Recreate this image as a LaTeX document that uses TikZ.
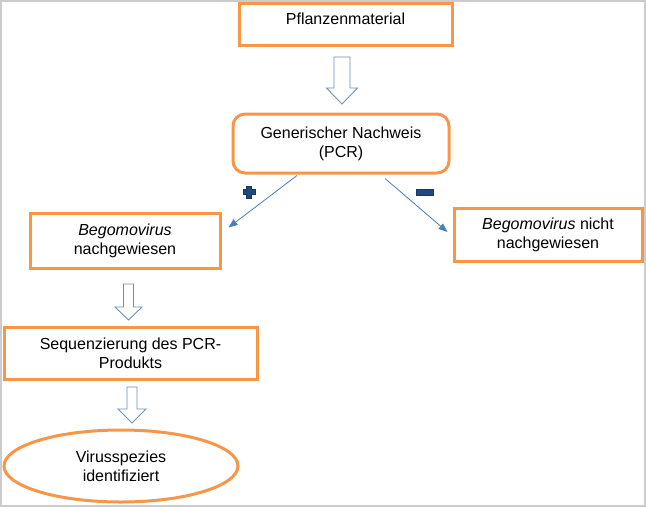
\documentclass[tikz,border=0pt]{standalone}
\usepackage{fontspec}
\setmainfont{Liberation Sans}
\usetikzlibrary{arrows.meta,shapes.geometric}
\definecolor{orbox}{HTML}{F79646}
\definecolor{arrblue}{HTML}{4A7EBB}
\definecolor{hollowblue}{HTML}{6F8FB8}
\definecolor{navy}{HTML}{1F497D}
\definecolor{navydark}{HTML}{17375E}
\definecolor{framegray}{HTML}{CCCCCC}
\tikzset{
  obox/.style={draw=orbox, line width=3pt, fill=white, align=center, inner sep=2pt,
    font=\fontsize{16}{19}\selectfont},
  rbox/.style={obox, rounded corners=12pt},
  ebox/.style={obox, ellipse},
  conn/.style={draw=arrblue, line width=0.8pt, -{Triangle[length=9pt,width=7pt]}},
  hollow/.style={draw=hollowblue, line width=0.9pt, fill=white, line join=miter},
  sign/.style={fill=navy, draw=navydark, line width=0.6pt}
}
\newcommand{\blockarrow}[6]{% x, ytop, yhead, ytip, half shaft, half head
  \path[hollow] (#1-#5,#2) -- (#1+#5,#2) -- (#1+#5,#3) -- (#1+#6,#3) -- (#1,#4)
    -- (#1-#6,#3) -- (#1-#5,#3) -- cycle;}
\begin{document}
\begin{tikzpicture}[x=1pt,y=-1pt]
\useasboundingbox (0,0) rectangle (646,507);
\draw[framegray, line width=1.6pt] (1,1) rectangle (645,506);

\node[obox, minimum width=213pt, minimum height=42pt, text height=12pt, text depth=12pt] (pm) at (345.5,24) {Pflanzenmaterial};
\node[rbox, minimum width=216pt, minimum height=59pt] (gen) at (341,143.5) {Generischer Nachweis\\(PCR)};
\node[obox, minimum width=190pt, minimum height=55pt] (bl) at (125,240.5) {\textit{Begomovirus}\\nachgewiesen};
\node[obox, minimum width=188pt, minimum height=53pt] (br) at (548,234.5) {\textit{Begomovirus} nicht\\nachgewiesen};
\node[obox, minimum width=253pt, minimum height=52pt] (seq) at (130.5,353) {Sequenzierung des PCR-\\Produkts};
\node[ebox, minimum width=234pt, minimum height=72pt] (vir) at (121,466) {Virusspezies\\identifiziert};

\blockarrow{342}{57}{88}{104}{8}{15.5}
\blockarrow{128.5}{284}{307}{320}{5}{13.5}
\blockarrow{132}{387}{409}{423}{5}{14}

\draw[conn] ([xshift=-44pt,yshift=-1pt]gen.south) -- ([xshift=7pt,yshift=13pt]bl.east);
\draw[conn] ([xshift=44pt,yshift=-4pt]gen.south) -- ([xshift=-5pt,yshift=2.5pt]br.west);

\coordinate (plus) at (249,192);
\path[sign] ([xshift=-2.3pt,yshift=6pt]plus) -- ([xshift=2.3pt,yshift=6pt]plus)
  -- ([xshift=2.3pt,yshift=2.3pt]plus) -- ([xshift=6pt,yshift=2.3pt]plus)
  -- ([xshift=6pt,yshift=-2.3pt]plus) -- ([xshift=2.3pt,yshift=-2.3pt]plus)
  -- ([xshift=2.3pt,yshift=-6pt]plus) -- ([xshift=-2.3pt,yshift=-6pt]plus)
  -- ([xshift=-2.3pt,yshift=-2.3pt]plus) -- ([xshift=-6pt,yshift=-2.3pt]plus)
  -- ([xshift=-6pt,yshift=2.3pt]plus) -- ([xshift=-2.3pt,yshift=2.3pt]plus) -- cycle;
\coordinate (minus) at (424.5,192);
\path[sign] ([xshift=-8.5pt,yshift=-2.8pt]minus) rectangle ([xshift=8.5pt,yshift=2.8pt]minus);
\end{tikzpicture}
\end{document}
